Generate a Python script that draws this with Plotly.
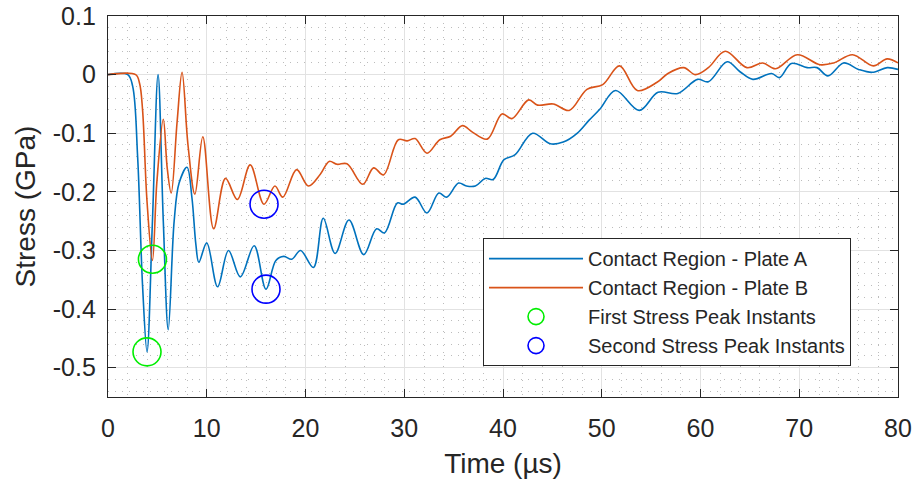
import plotly.graph_objects as go

# Contact-region stress histories (time in microseconds, stress in GPa)
time_a = [0, 2.0, 2.5, 3.0, 3.5, 3.95, 4.5, 5.07, 5.6, 6.1, 6.7, 7.2, 8.0, 8.5, 8.9, 9.2,
          10.0, 11.1, 12.2, 13.4, 14.8, 16.0, 17.0, 17.8, 18.6, 19.5, 20.8, 21.8, 23.0,
          24.4, 25.9, 27.2, 28.0, 29.3, 29.9, 31.1, 32.3, 33.5, 34.3, 35.5, 36.3, 37.2,
          38.2, 39.0, 40.1, 41.2, 43.0, 44.8, 46.1, 47.5, 48.7, 49.8, 51.4, 53.8, 55.7,
          57.7, 59.7, 60.8, 62.7, 64.0, 65.3, 67.2, 68.0, 69.2, 70.8, 71.8, 72.9, 74.5,
          76.0, 77.4, 78.9, 80.0]
stress_a = [0, 0, -0.02, -0.14, -0.36, -0.473, -0.25, 0.0, -0.25, -0.435, -0.25, -0.185,
            -0.158, -0.21, -0.29, -0.32, -0.287, -0.362, -0.30, -0.345, -0.292, -0.366,
            -0.317, -0.31, -0.315, -0.30, -0.329, -0.245, -0.305, -0.248, -0.307, -0.263,
            -0.27, -0.219, -0.221, -0.209, -0.236, -0.202, -0.209, -0.185, -0.19, -0.19,
            -0.177, -0.179, -0.145, -0.137, -0.10, -0.118, -0.115, -0.10, -0.078, -0.059,
            -0.027, -0.061, -0.03, -0.032, -0.008, -0.012, 0.022, 0.005, -0.008, 0.002,
            -0.005, 0.019, 0.012, 0.012, -0.002, 0.02, 0.009, 0.004, 0.012, 0.009]

time_b = [0, 2.8, 3.2, 3.5, 3.95, 4.5, 4.95, 5.6, 6.0, 6.4, 7.0, 7.5, 8.1, 8.8, 9.6, 10.7,
          11.9, 13.1, 14.4, 15.8, 16.9, 17.7, 19.1, 20.3, 21.5, 22.4, 23.2, 24.2, 25.8,
          26.9, 27.9, 29.4, 30.3, 31.1, 32.3, 33.6, 34.7, 35.9, 36.9, 38.4, 39.9, 40.9,
          42.6, 43.5, 45.1, 46.7, 48.5, 50.1, 51.8, 53.6, 55.6, 56.7, 58.3, 59.5, 60.8,
          62.5, 64.7, 66.3, 67.6, 69.8, 72.1, 73.5, 75.4, 77.5, 78.9, 80.0]
stress_b = [0, 0, -0.015, -0.06, -0.216, -0.317, -0.183, -0.076, -0.16, -0.202, -0.08,
            0.004, -0.12, -0.204, -0.106, -0.263, -0.177, -0.213, -0.154, -0.221, -0.19,
            -0.209, -0.162, -0.19, -0.17, -0.148, -0.153, -0.152, -0.187, -0.159, -0.171,
            -0.111, -0.113, -0.109, -0.134, -0.111, -0.105, -0.087, -0.098, -0.11, -0.067,
            -0.075, -0.043, -0.052, -0.05, -0.061, -0.025, -0.017, 0.015, -0.027, -0.013,
            0.002, 0.012, 0.0, 0.012, 0.04, 0.012, 0.02, 0.01, 0.034, 0.017, 0.02, 0.034,
            0.015, 0.027, 0.02]

# Peak instants (plate A, plate B)
first_peak_t = [3.95, 4.5]
first_peak_s = [-0.473, -0.315]
second_peak_t = [16.0, 15.8]
second_peak_s = [-0.366, -0.221]

x_ticks = [0, 10, 20, 30, 40, 50, 60, 70, 80]
y_ticks = [-0.5, -0.4, -0.3, -0.2, -0.1, 0, 0.1]
y_tick_text = ["-0.5", "-0.4", "-0.3", "-0.2", "-0.1", "0", "0.1"]

BLUE = "#0072BD"
ORANGE = "#D95319"
INK = "#262626"
FONT = "Liberation Sans, Arial, sans-serif"

fig = go.Figure()
fig.add_trace(go.Scatter(x=time_a, y=stress_a, mode="lines", name="Contact Region - Plate A",
                         line=dict(color=BLUE, width=1.6, shape="spline", smoothing=1.0)))
fig.add_trace(go.Scatter(x=time_b, y=stress_b, mode="lines", name="Contact Region - Plate B",
                         line=dict(color=ORANGE, width=1.6, shape="spline", smoothing=1.0)))
fig.add_trace(go.Scatter(x=first_peak_t, y=first_peak_s, mode="markers",
                         name="First Stress Peak Instants",
                         marker=dict(symbol="circle-open", size=28, color="#00EE00",
                                     line=dict(width=1.6, color="#00EE00"))))
fig.add_trace(go.Scatter(x=second_peak_t, y=second_peak_s, mode="markers",
                         name="Second Stress Peak Instants",
                         marker=dict(symbol="circle-open", size=28, color="#0000FF",
                                     line=dict(width=1.6, color="#0000FF"))))

axis_common = dict(
    ticks="inside", ticklen=8, tickwidth=1.2, tickcolor=INK,
    showline=True, linecolor=INK, linewidth=1.4, mirror="ticks",
    showgrid=True, gridcolor="#e2e2e2", gridwidth=1,
    zeroline=False, automargin=False, ticklabeloverflow="allow",
    tickfont=dict(family=FONT, size=25, color=INK),
)
minor_grid = dict(showgrid=True, gridcolor="#bcbcbc", griddash="1px,6px", gridwidth=1)

fig.update_xaxes(
    range=[0, 80], tickvals=x_ticks, ticklabelstandoff=9,
    minor=dict(dtick=2, **minor_grid),
    title=dict(text="Time (µs)", font=dict(family=FONT, size=28, color=INK), standoff=12),
    **axis_common,
)
fig.update_yaxes(
    range=[-0.55, 0.1001], tickvals=y_ticks, ticktext=y_tick_text, ticklabelstandoff=6,
    minor=dict(dtick=0.02, **minor_grid),
    title=dict(text="Stress (GPa)", font=dict(family=FONT, size=28, color=INK), standoff=8),
    **axis_common,
)

fig.update_layout(
    width=915, height=488,
    margin=dict(l=108, r=17, t=16, b=91),
    plot_bgcolor="white", paper_bgcolor="white",
    showlegend=True,
    legend=dict(
        x=0.4747, y=0.417, xanchor="left", yanchor="top",
        bgcolor="white", bordercolor=INK, borderwidth=1,
        font=dict(family=FONT, size=20, color=INK),
        itemwidth=94, tracegroupgap=0,
    ),
)

fig.write_html("out.html")
